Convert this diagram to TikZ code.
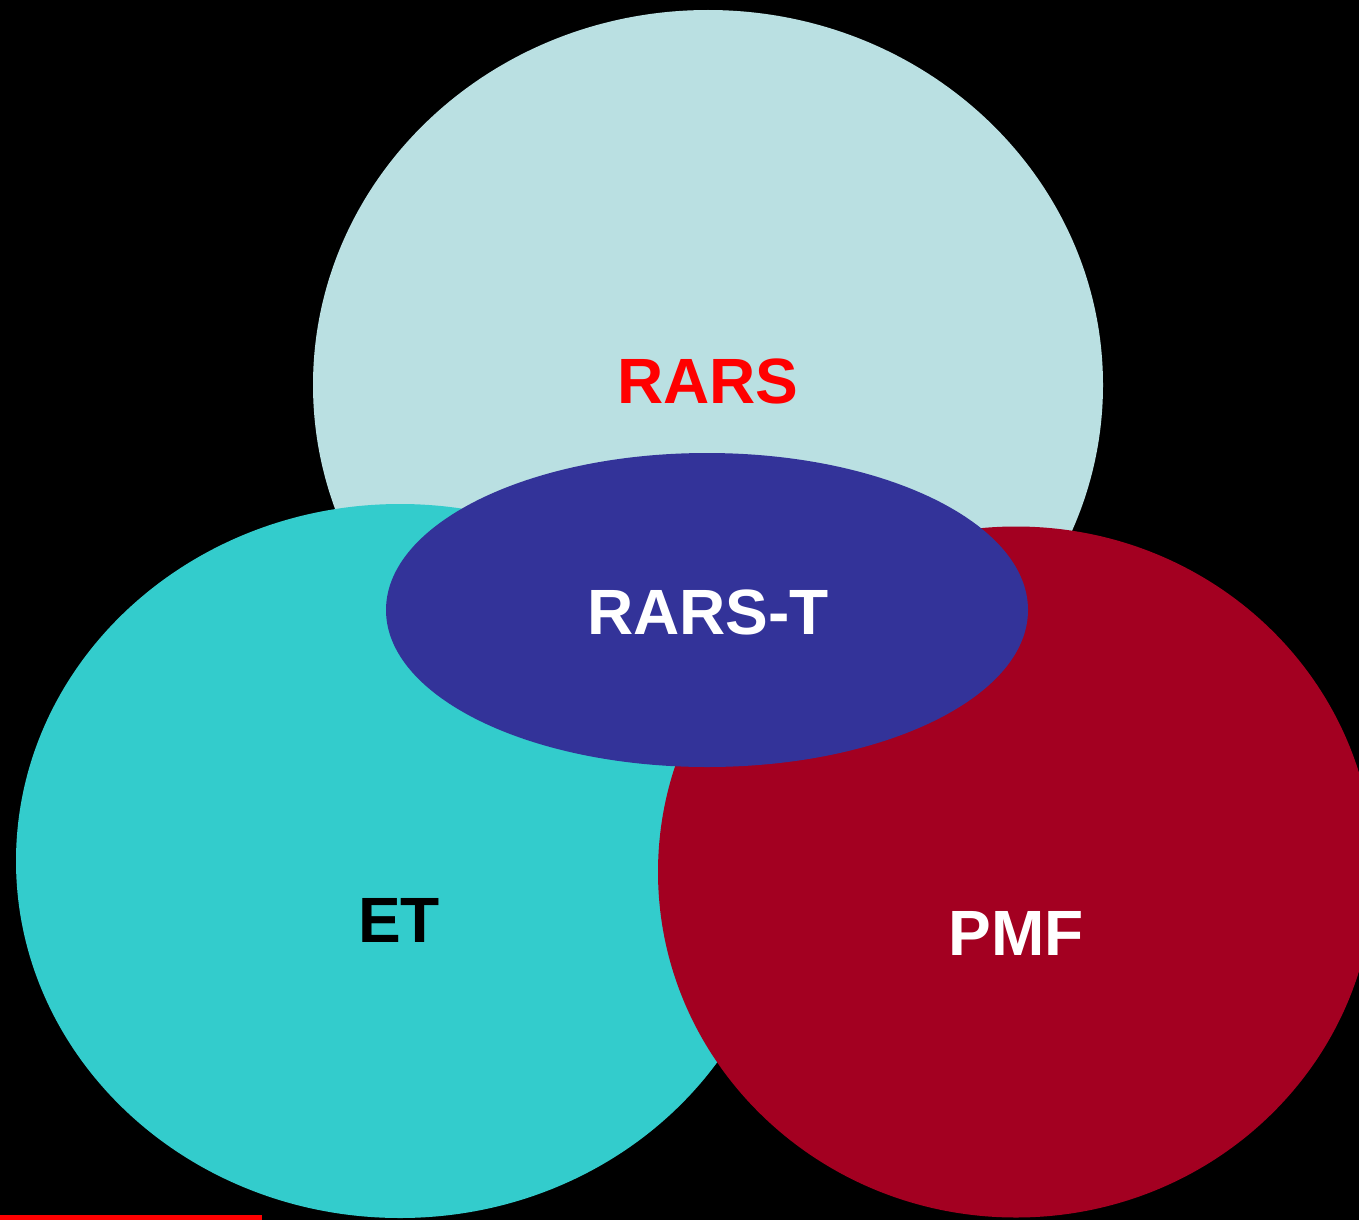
\documentclass[tikz,border=0pt]{standalone}
\usepackage{fontspec}
\setmainfont{Liberation Sans}
\usetikzlibrary{shapes.geometric}
\definecolor{rarsblue}{HTML}{BAE0E2}
\definecolor{etcyan}{HTML}{33CCCC}
\definecolor{pmfred}{HTML}{A30021}
\definecolor{rarstnavy}{HTML}{333399}
\definecolor{accentred}{HTML}{FF0000}
\tikzset{
  blob/.style={ellipse, draw=none, inner sep=0pt, outer sep=0pt},
  tag/.style={font=\fontsize{64}{70}\selectfont\bfseries, inner sep=0pt, anchor=center}
}
\begin{document}
\begin{tikzpicture}[x=1pt,y=-1pt]
  % background
  \fill[black] (0,0) rectangle (1359,1220);
  \useasboundingbox (0,0) rectangle (1359,1220);
  % the four sets
  \node[blob, fill=rarsblue, minimum width=790pt, minimum height=750pt] (rars) at (708,385) {};
  \node[blob, fill=etcyan, minimum width=768pt, minimum height=714pt] (et) at (400,861) {};
  \node[blob, fill=pmfred, minimum width=716pt, minimum height=691pt] (pmf) at (1016,872) {};
  \node[blob, fill=rarstnavy, minimum width=642pt, minimum height=314pt] (rarst) at (707,610) {};
  % labels
  \node[tag, text=accentred] (lrars) at (708,381) {RARS};
  \node[tag, text=white] (lrarst) at (708,612) {RARS-T};
  \node[tag, text=black] (let) at (399,920) {ET};
  \node[tag, text=white] (lpmf) at (1016,933) {PMF};
  % bottom rule
  \fill[accentred] (0,1215) rectangle (262,1220);
\end{tikzpicture}
\end{document}
